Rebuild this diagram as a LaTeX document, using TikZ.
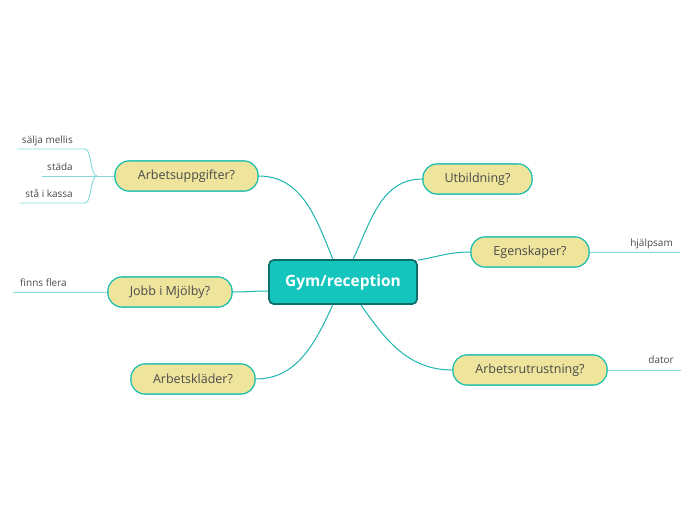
\documentclass[tikz,border=0pt]{standalone}
\usepackage{fontspec}
\setmainfont{Open Sans}
\usetikzlibrary{calc}
\definecolor{centerfill}{HTML}{14C5BD}
\definecolor{centerdraw}{HTML}{0C6F69}
\definecolor{topfill}{HTML}{EEE49C}
\definecolor{topdraw}{HTML}{1DBFB1}
\definecolor{conn}{HTML}{1DB6AE}
\definecolor{leafline}{HTML}{86DADA}
\definecolor{txt}{HTML}{4A4A4A}
\tikzset{
  centerbox/.style={draw=centerdraw, line width=1.6pt, fill=centerfill, rounded corners=5pt,
    minimum width=148pt, minimum height=44pt, inner sep=0pt, text=white,
    font=\fontsize{15.5}{18}\selectfont\bfseries},
  topic/.style={draw=topdraw, line width=1.1pt, fill=topfill, rounded corners=14pt,
    minimum height=30pt, inner sep=0pt, text=txt, font=\fontsize{12.5}{15}\selectfont},
  conline/.style={draw=conn, line width=1pt},
  leafedge/.style={draw=leafline, line width=0.9pt},
  leaftext/.style={text=txt, inner sep=0pt, font=\fontsize{10}{12}\selectfont},
}
\begin{document}
\begin{tikzpicture}[x=1pt,y=1pt]
\useasboundingbox[fill=white] (0,0) rectangle (696,-520);
% node placement (drawn again on top below)
\node[centerbox] (c) at (343,-282) {\raisebox{-2pt}{Gym/reception}};
\node[topic, minimum width=143pt] (a) at (186.5,-176) {Arbetsuppgifter?};
\node[topic, minimum width=109pt] (u) at (477.5,-179) {Utbildning?};
\node[topic, minimum width=118pt] (e) at (530,-252) {Egenskaper?};
\node[topic, minimum width=124pt] (j) at (170,-292) {Jobb i Mjölby?};
\node[topic, minimum width=124pt] (k) at (193,-379) {Arbetskläder?};
\node[topic, minimum width=154pt] (r) at (530,-370) {Arbetsrutrustning?};
% leaf coordinates
\coordinate (hub) at (97,-176);
\coordinate (s1a) at (85,-149);
\coordinate (s1b) at (17,-149);
\coordinate (s2b) at (42,-176);
\coordinate (s3a) at (85,-203);
\coordinate (s3b) at (20,-203);
\coordinate (hb) at (680,-252);
\coordinate (db) at (681,-370);
\coordinate (fb) at (13,-292);
% leaf texts
\node[leaftext, anchor=base east] (t1) at (73,-143) {sälja mellis};
\node[leaftext, anchor=base east] (t2) at (73,-170) {städa};
\node[leaftext, anchor=base east] (t3) at (73,-197) {stå i kassa};
\node[leaftext, anchor=base east] (t4) at (673,-246) {hjälpsam};
\node[leaftext, anchor=base east] (t5) at (674,-363) {dator};
\node[leaftext, anchor=base west] (t6) at (20,-286) {finns flera};
% leaf edges
\draw[leafedge] (a.west) -- (hub);
\draw[leafedge] (hub) .. controls (90,-176) and (92,-149) .. (s1a) -- (s1b);
\draw[leafedge] (hub) -- (s2b);
\draw[leafedge] (hub) .. controls (90,-176) and (92,-203) .. (s3a) -- (s3b);
\draw[leafedge] (e.east) -- (hb);
\draw[leafedge] (r.east) -- (db);
\draw[leafedge] (j.west) -- (fb);
% main connectors
\draw[conline] (c.114) to[out=112,in=0] (a.east);
\draw[conline] (c.66) to[out=65,in=180] (u.west);
\draw[conline] ($(c.north east)+(0,-1)$) to[out=10,in=180] (e.west);
\draw[conline] ($(c.west)+(0,-9)$) to[out=180,in=0] (j.east);
\draw[conline] (c.246) to[out=245,in=0] (k.east);
\draw[conline] (c.308) to[out=305,in=180] (r.west);
% nodes on top of connectors
\node[centerbox] at (c) {\raisebox{-2pt}{Gym/reception}};
\node[topic, minimum width=143pt] at (a) {Arbetsuppgifter?};
\node[topic, minimum width=109pt] at (u) {Utbildning?};
\node[topic, minimum width=118pt] at (e) {Egenskaper?};
\node[topic, minimum width=124pt] at (j) {Jobb i Mjölby?};
\node[topic, minimum width=124pt] at (k) {Arbetskläder?};
\node[topic, minimum width=154pt] at (r) {Arbetsrutrustning?};
\end{tikzpicture}
\end{document}
